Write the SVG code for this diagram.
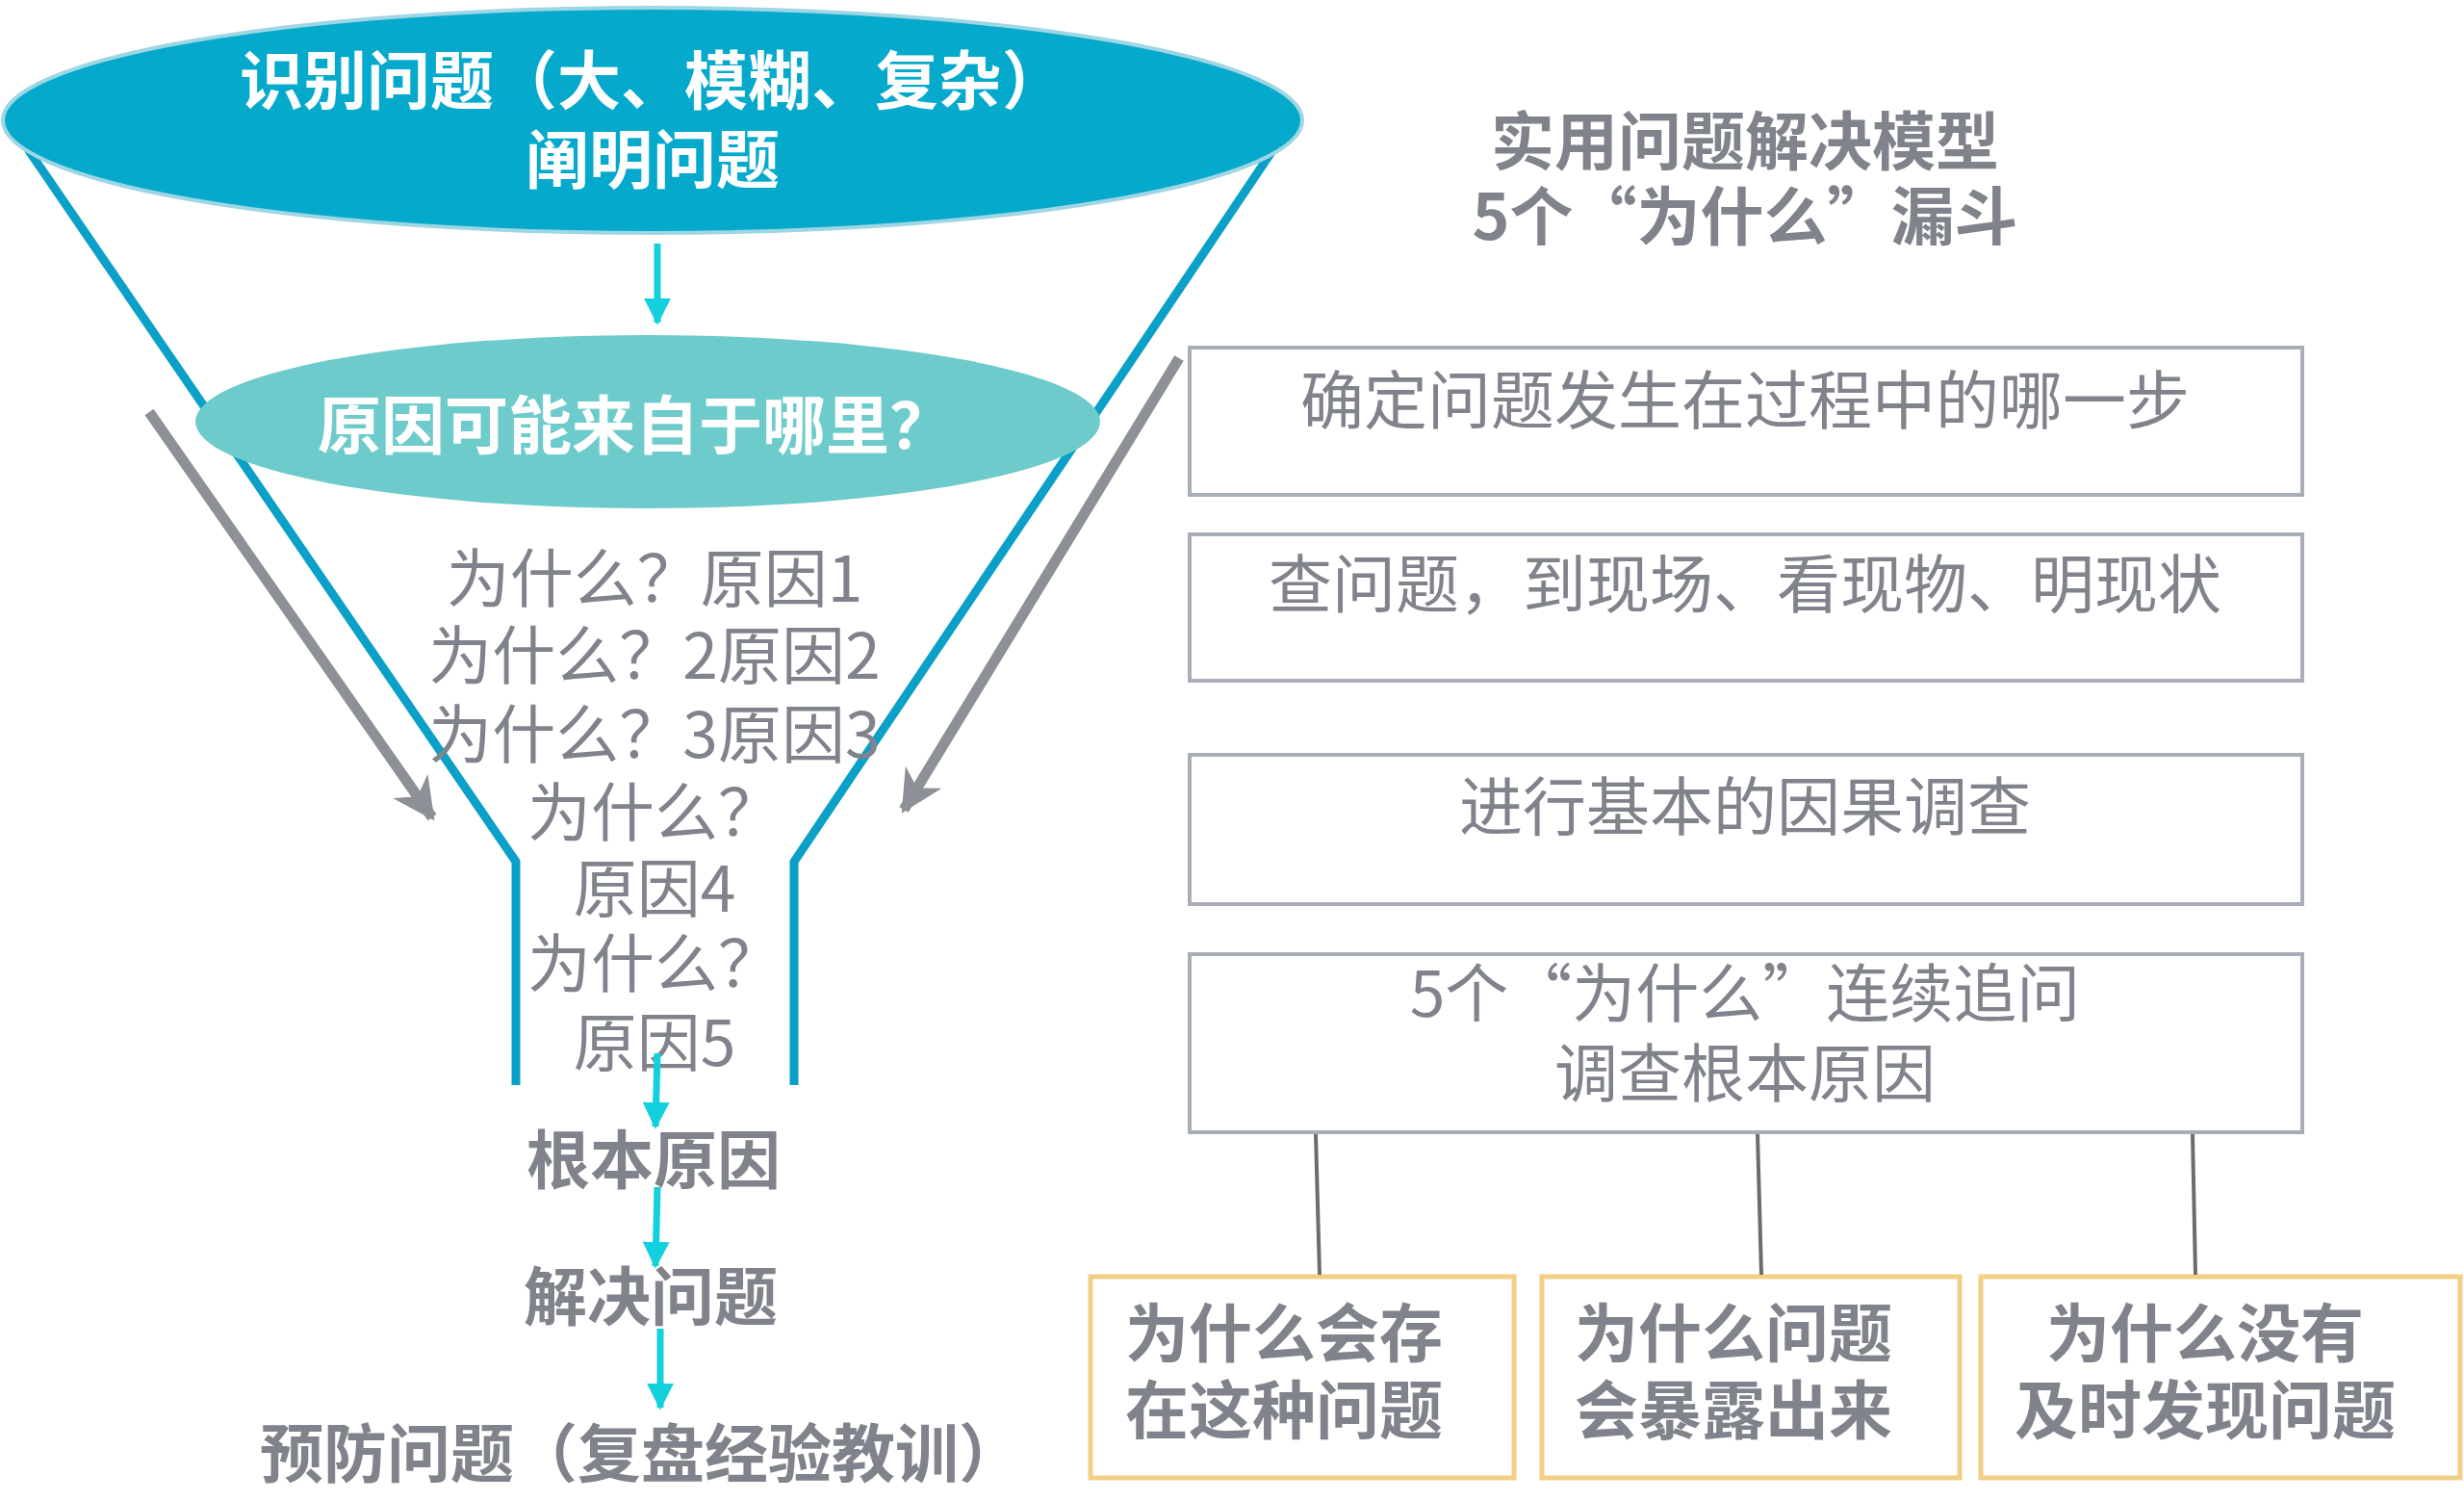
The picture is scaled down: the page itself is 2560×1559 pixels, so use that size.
<svg xmlns="http://www.w3.org/2000/svg" width="2560" height="1559" viewBox="0 0 2560 1559">
<defs>
<marker id="ac" viewBox="0 0 10 10" refX="9" refY="5" markerWidth="4" markerHeight="4" orient="auto" markerUnits="strokeWidth"><path d="M0,0 L10,5 L0,10 z" fill="#12d0dc"/></marker>
<marker id="ag" viewBox="0 0 10 10" refX="9" refY="5" markerWidth="4" markerHeight="4" orient="auto" markerUnits="strokeWidth"><path d="M0,0 L10,5 L0,10 L3,5 z" fill="#8e9097"/></marker>
</defs>
<style>
text{font-family:"Noto Sans CJK SC","Liberation Sans",sans-serif;text-anchor:middle;font-size:66px}
.w{fill:#fff;font-weight:bold}
.g{fill:#80838c}
.gb{fill:#80838c;font-weight:bold}
.box{fill:#fff;stroke:#a9adb8;stroke-width:4}
.yb{fill:#fff;stroke:#f3cf86;stroke-width:5}
.fun{fill:none;stroke:#0aa0c8;stroke-width:9}
.cy{stroke:#12d0dc;stroke-width:7;fill:none}
.ga{stroke:#8e9097;stroke-width:11;fill:none}
.ln{stroke:#6a6c72;stroke-width:4}
</style>
<rect width="2560" height="1559" fill="#fff"/>
<g id="funnel">
<polyline class="fun" points="29,155 536,895 536,1127"/>
<polyline class="fun" points="1323,155 825,895 825,1127"/>
</g>
<g id="n-top"><ellipse cx="678" cy="125" rx="675" ry="117" fill="#05a9cc" stroke="#9fd6e4" stroke-width="4"/>
<text class="w" x="678" y="108">识别问题（大、模糊、复杂）</text>
<text class="w" x="678" y="190">阐明问题</text></g>
<g id="n-where"><ellipse cx="673" cy="438" rx="470" ry="90" fill="#6ecbcb"/>
<text class="w" x="660" y="466">原因可能来自于哪里？</text></g>
<g id="n-why" class="g">
<text x="680" y="625">为什么？原因1</text>
<text x="680" y="705">为什么？2原因2</text>
<text x="680" y="787">为什么？3原因3</text>
<text x="680" y="868">为什么？</text>
<text x="680" y="947">原因4</text>
<text x="680" y="1025">为什么？</text>
<text x="680" y="1107">原因5</text></g>
<g id="n-root"><text class="gb" x="679" y="1229">根本原因</text></g>
<g id="n-solve"><text class="gb" x="676" y="1371">解决问题</text></g>
<g id="n-prevent"><text class="gb" x="666" y="1534">预防问题（复盘经验教训）</text></g>
<g id="n-title"><text class="gb" x="1813" y="171">实用问题解决模型</text>
<text class="gb" x="1813" y="249">5个“为什么”漏斗</text></g>
<g id="b1"><rect class="box" x="1236" y="361" width="1156" height="153"/><text class="g" x="1813" y="440">确定问题发生在过程中的哪一步</text></g>
<g id="b2"><rect class="box" x="1236" y="555" width="1156" height="152"/><text class="g" x="1813" y="631">查问题，到现场、看现物、明现状</text></g>
<g id="b3"><rect class="box" x="1236" y="784" width="1156" height="155"/><text class="g" x="1813" y="862">进行基本的因果调查</text></g>
<g id="b4"><rect class="box" x="1236" y="991" width="1156" height="185"/><text class="g" x="1813" y="1056">5个“为什么”连续追问</text><text class="g" x="1813" y="1139">调查根本原因</text></g>
<g id="y1"><rect class="yb" x="1133" y="1326" width="440" height="209"/><text class="gb" x="1334" y="1409">为什么会存</text><text class="gb" x="1334" y="1489">在这种问题</text></g>
<g id="y2"><rect class="yb" x="1602" y="1326" width="434" height="209"/><text class="gb" x="1801" y="1409">为什么问题</text><text class="gb" x="1801" y="1489">会暴露出来</text></g>
<g id="y3"><rect class="yb" x="2058" y="1326" width="498" height="209"/><text class="gb" x="2291" y="1409">为什么没有</text><text class="gb" x="2291" y="1489">及时发现问题</text></g>
<g id="connectors">
<line class="cy" x1="683" y1="253" x2="683" y2="335" marker-end="url(#ac)"/>
<line class="ga" x1="155" y1="428" x2="449" y2="849" marker-end="url(#ag)"/>
<line class="ga" x1="1225" y1="372" x2="939" y2="841" marker-end="url(#ag)"/>
<line class="cy" x1="683" y1="1094" x2="681" y2="1170" marker-end="url(#ac)"/>
<line class="cy" x1="683" y1="1233" x2="681" y2="1315" marker-end="url(#ac)"/>
<line class="cy" x1="686" y1="1380" x2="686" y2="1462" marker-end="url(#ac)"/>
<line class="ln" x1="1367" y1="1178" x2="1371" y2="1324"/>
<line class="ln" x1="1826" y1="1178" x2="1830" y2="1324"/>
<line class="ln" x1="2278" y1="1178" x2="2281" y2="1324"/>
</g>
</svg>
